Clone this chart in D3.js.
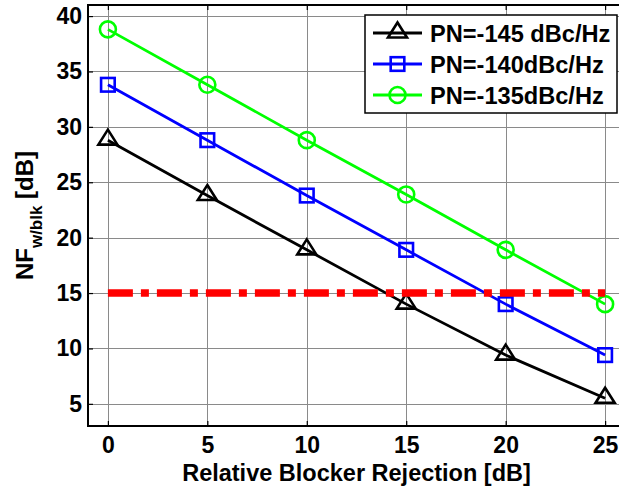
<!DOCTYPE html>
<html>
<head>
<meta charset="utf-8">
<script src="https://cdn.jsdelivr.net/npm/d3@7"></script>
<style>
  html, body { margin: 0; padding: 0; background: #fff; }
  svg { display: block; font-family: "Liberation Sans", Arial, sans-serif; font-weight: bold; }
</style>
</head>
<body>
<script>
// Relative blocker rejection (dB)
const rejection = [0, 5, 10, 15, 20, 25];
// NF with blocker (dB) for each phase-noise level
const nfPN145 = [28.8, 23.8, 18.9, 14.0, 9.4, 5.5];
const nfPN140 = [33.8, 28.8, 23.8, 18.9, 14.0, 9.4];
const nfPN135 = [38.8, 33.8, 28.8, 23.9, 18.9, 14.0];
const seriesNames = ["PN=-145 dBc/Hz", "PN=-140dBc/Hz", "PN=-135dBc/Hz"];
const nfLimit = 15;
const xTicks = [0, 5, 10, 15, 20, 25];
const yTicks = [5, 10, 15, 20, 25, 30, 35, 40];

const W = 619, H = 489;
const m = { left: 88, top: 5, right: 625, bottom: 426 };

const svg = d3.select("body").append("svg").attr("width", W).attr("height", H);

const x = d3.scaleLinear().domain([-1, 26]).range([m.left, m.right]);
const y = d3.scaleLinear().domain([3, 41]).range([m.bottom, m.top]);

// grid
const grid = svg.append("g").attr("stroke", "#8a8a8a").attr("stroke-width", 1).attr("shape-rendering", "crispEdges");
grid.selectAll(".gx").data(xTicks).join("line")
  .attr("x1", d => Math.round(x(d)) + 0.5).attr("x2", d => Math.round(x(d)) + 0.5)
  .attr("y1", m.top).attr("y2", m.bottom);
grid.selectAll(".gy").data(yTicks).join("line")
  .attr("y1", d => Math.round(y(d)) + 0.5).attr("y2", d => Math.round(y(d)) + 0.5)
  .attr("x1", m.left).attr("x2", m.right);

// axes
const xAxis = d3.axisBottom(x).tickValues(xTicks).tickSize(-5).tickPadding(11);
const yAxis = d3.axisLeft(y).tickValues(yTicks).tickSize(-5).tickPadding(6);
const xTop = d3.axisTop(x).tickValues(xTicks).tickSize(-5).tickFormat("");

const gx = svg.append("g").attr("transform", `translate(0,${m.bottom})`).call(xAxis);
const gy = svg.append("g").attr("transform", `translate(${m.left},0)`).call(yAxis);
const gt = svg.append("g").attr("transform", `translate(0,${m.top})`).call(xTop);
[gx, gy, gt].forEach(g => {
  g.select(".domain").remove();
  g.selectAll(".tick line").attr("stroke", "#000").attr("stroke-width", 1.2);
  g.selectAll("text").attr("fill", "#000").attr("font-size", 23).attr("font-weight", "bold")
    .attr("font-family", "Liberation Sans, Arial, sans-serif");
});

// box
svg.append("rect").attr("x", m.left).attr("y", m.top)
  .attr("width", m.right - m.left).attr("height", m.bottom - m.top)
  .attr("fill", "none").attr("stroke", "#000").attr("stroke-width", 2);

// series
const series = [
  { name: seriesNames[0], values: nfPN145, color: "#000000", marker: "triangle" },
  { name: seriesNames[1], values: nfPN140, color: "#0000ff", marker: "square" },
  { name: seriesNames[2], values: nfPN135, color: "#00ff00", marker: "circle" }
];

function drawMarker(g, type, cx, cy, color) {
  if (type === "triangle") {
    g.append("path")
      .attr("d", `M${cx},${cy - 10.5} L${cx + 9.5},${cy + 4.5} L${cx - 9.5},${cy + 4.5} Z`)
      .attr("fill", "none").attr("stroke", color).attr("stroke-width", 2.6)
      .attr("stroke-linejoin", "miter");
  } else if (type === "square") {
    const s = 6.8;
    g.append("rect").attr("x", cx - s).attr("y", cy - s).attr("width", 2 * s).attr("height", 2 * s)
      .attr("fill", "none").attr("stroke", color).attr("stroke-width", 2.6);
  } else {
    g.append("circle").attr("cx", cx).attr("cy", cy).attr("r", 8)
      .attr("fill", "none").attr("stroke", color).attr("stroke-width", 2.6);
  }
}

const line = d3.line().x((d, i) => x(rejection[i])).y(d => y(d));
series.forEach(s => {
  const g = svg.append("g");
  g.append("path").datum(s.values).attr("d", line)
    .attr("fill", "none").attr("stroke", s.color).attr("stroke-width", 2.8);
  s.values.forEach((v, i) => drawMarker(g, s.marker, x(rejection[i]), y(v), s.color));
});

// NF limit
svg.append("line")
  .attr("x1", x(rejection[0])).attr("x2", x(rejection[rejection.length - 1]))
  .attr("y1", y(nfLimit)).attr("y2", y(nfLimit))
  .attr("stroke", "#ff0000").attr("stroke-width", 7.5)
  .attr("stroke-dasharray", "25 8 8 8");

// axis labels
svg.append("text").attr("x", (m.left + m.right) / 2).attr("y", 481)
  .attr("text-anchor", "middle").attr("font-size", 23.5).text("Relative Blocker Rejection [dB]");

const yl = svg.append("text").attr("transform", `translate(33,${(m.top + m.bottom) / 2}) rotate(-90)`)
  .attr("text-anchor", "middle").attr("font-size", 24);
yl.append("tspan").text("NF");
yl.append("tspan").attr("font-size", 17).attr("dy", 9).text("w/blk");
yl.append("tspan").attr("dy", -9).text(" [dB]");

// legend
const lg = svg.append("g");
lg.append("rect").attr("x", 365).attr("y", 15).attr("width", 252).attr("height", 98)
  .attr("fill", "#fff").attr("stroke", "#000").attr("stroke-width", 1.5);
const rowY = [33, 64, 95];
series.forEach((s, i) => {
  const ry = rowY[i];
  lg.append("line").attr("x1", 373).attr("x2", 422).attr("y1", ry).attr("y2", ry)
    .attr("stroke", s.color).attr("stroke-width", 2.8);
  drawMarker(lg, s.marker, 397.5, ry, s.color);
  lg.append("text").attr("x", 430).attr("y", ry + 8.5).attr("font-size", 23.6).text(s.name);
});
</script>
</body>
</html>
